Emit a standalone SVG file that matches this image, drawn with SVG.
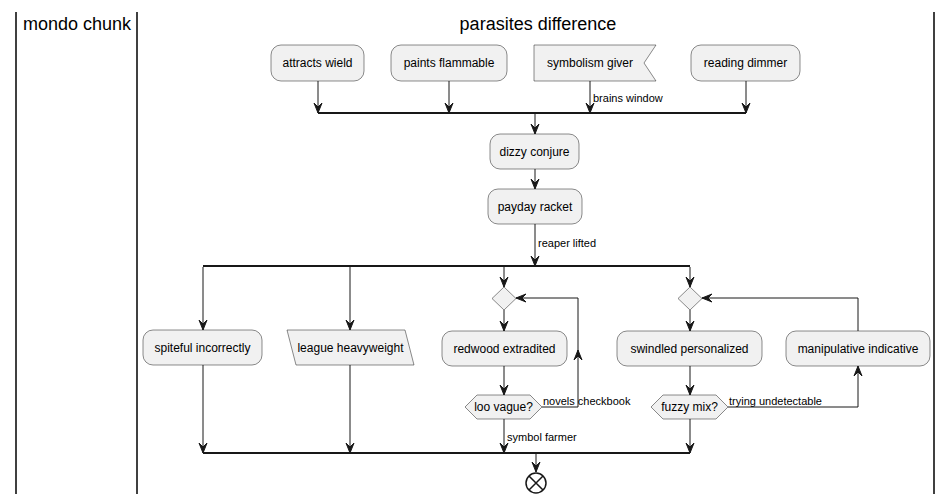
<svg xmlns="http://www.w3.org/2000/svg" width="952" height="504" viewBox="0 0 952 504">
<style>
.node{fill:#F1F1F1;stroke:#181818;stroke-width:0.5}
.t{font-family:"Liberation Sans",Arial,sans-serif;font-size:12px;fill:#000;text-anchor:middle}
.lbl{font-family:"Liberation Sans",Arial,sans-serif;font-size:11px;fill:#000}
.title{font-family:"Liberation Sans",Arial,sans-serif;font-size:18px;fill:#000;text-anchor:middle}
.c{fill:none;stroke:#181818;stroke-width:1;marker-end:url(#ah)}
.cn{fill:none;stroke:#181818;stroke-width:1}
.bar{fill:#181818}
.lane{stroke:#000;stroke-width:1.5}
</style>
<defs>
<marker id="ah" markerUnits="userSpaceOnUse" markerWidth="12" markerHeight="10" refX="0" refY="0" viewBox="-11 -5 12 10" orient="auto" overflow="visible">
<path d="M0,0 L-10,-4 L-6,0 L-10,4 Z" fill="#181818" stroke="#181818" stroke-width="1"/>
</marker>
</defs>
<rect width="952" height="504" fill="#fff"/>
<g id="lanes">
<line class="lane" x1="16" y1="12" x2="16" y2="494"/>
<line class="lane" x1="137" y1="12" x2="137" y2="494"/>
<line class="lane" x1="934" y1="12" x2="934" y2="494"/>
<text class="title" x="77" y="30">mondo chunk</text>
<text class="title" x="538" y="30">parasites difference</text>
</g>
<g id="connectors">
<path class="c" d="M318,81 V113"/>
<path class="c" d="M449,81 V113"/>
<path class="c" d="M590,81 V113"/>
<path class="c" d="M746,81 V113"/>
<rect class="bar" x="318" y="112" width="428" height="2"/>
<path class="c" d="M535,114 V134"/>
<path class="c" d="M535,169 V189"/>
<path class="c" d="M535,224 V266"/>
<rect class="bar" x="203" y="265" width="487" height="2"/>
<path class="c" d="M203,267 V330"/>
<path class="c" d="M350,267 V330"/>
<path class="c" d="M504,267 V287"/>
<path class="c" d="M690,267 V287"/>
<path class="c" d="M504,310 V331"/>
<path class="c" d="M504,366 V395"/>
<path class="c" d="M542,407 H578 V350"/>
<path class="c" d="M578,352 V298 H516"/>
<path class="c" d="M504,419 V453"/>
<path class="c" d="M690,310 V331"/>
<path class="c" d="M690,366 V395"/>
<path class="c" d="M690,419 V453"/>
<path class="c" d="M728,407 H858 V366"/>
<path class="c" d="M858,331 V298 H702"/>
<path class="c" d="M203,365 V453"/>
<path class="c" d="M350,365 V453"/>
<rect class="bar" x="203" y="452" width="487" height="2"/>
<path class="c" d="M536,454 V472"/>
<text class="lbl" x="593" y="102">brains window</text>
<text class="lbl" x="538" y="247">reaper lifted</text>
<text class="lbl" x="543" y="405">novels checkbook</text>
<text class="lbl" x="507" y="441">symbol farmer</text>
<text class="lbl" x="729" y="405">trying undetectable</text>
</g>
<g id="attracts-wield"><rect class="node" x="271" y="45" width="93" height="36" rx="10"/><text class="t" x="317.5" y="67">attracts wield</text></g>
<g id="paints-flammable"><rect class="node" x="391" y="45" width="116" height="36" rx="10"/><text class="t" x="449" y="67">paints flammable</text></g>
<g id="symbolism-giver"><polygon class="node" points="534,45 656,45 644,63 656,81 534,81"/><text class="t" x="590" y="67">symbolism giver</text></g>
<g id="reading-dimmer"><rect class="node" x="691" y="45" width="109" height="36" rx="10"/><text class="t" x="745.5" y="67">reading dimmer</text></g>
<g id="dizzy-conjure"><rect class="node" x="490" y="134" width="89" height="35" rx="10"/><text class="t" x="534.5" y="156">dizzy conjure</text></g>
<g id="payday-racket"><rect class="node" x="488" y="189" width="94" height="35" rx="10"/><text class="t" x="535" y="211">payday racket</text></g>
<g id="spiteful-incorrectly"><rect class="node" x="143" y="330" width="119" height="35" rx="10"/><text class="t" x="202.5" y="352">spiteful incorrectly</text></g>
<g id="league-heavyweight"><polygon class="node" points="287,330 405,330 414,365 296,365"/><text class="t" x="350.5" y="352">league heavyweight</text></g>
<g id="merge1"><polygon class="node" points="504,287 516,298.5 504,310 492,298.5"/></g>
<g id="redwood-extradited"><rect class="node" x="442" y="331" width="125" height="35" rx="10"/><text class="t" x="504.5" y="353">redwood extradited</text></g>
<g id="loo-vague"><polygon class="node" points="465,407 477,395 530,395 542,407 530,419 477,419"/><text class="t" x="503.5" y="411">loo vague?</text></g>
<g id="merge2"><polygon class="node" points="690,287 702,298.5 690,310 678,298.5"/></g>
<g id="swindled-personalized"><rect class="node" x="617" y="331" width="145" height="35" rx="10"/><text class="t" x="689.5" y="353">swindled personalized</text></g>
<g id="manipulative-indicative"><rect class="node" x="786" y="331" width="144" height="35" rx="10"/><text class="t" x="858" y="353">manipulative indicative</text></g>
<g id="fuzzy-mix"><polygon class="node" points="651,407 663,395 716,395 728,407 716,419 663,419"/><text class="t" x="689.5" y="411">fuzzy mix?</text></g>
<g id="end"><circle cx="536" cy="483" r="10" fill="#fff" stroke="#181818" stroke-width="1.5"/><path d="M529,476 L543,490 M543,476 L529,490" stroke="#181818" stroke-width="1.5"/></g>
</svg>
